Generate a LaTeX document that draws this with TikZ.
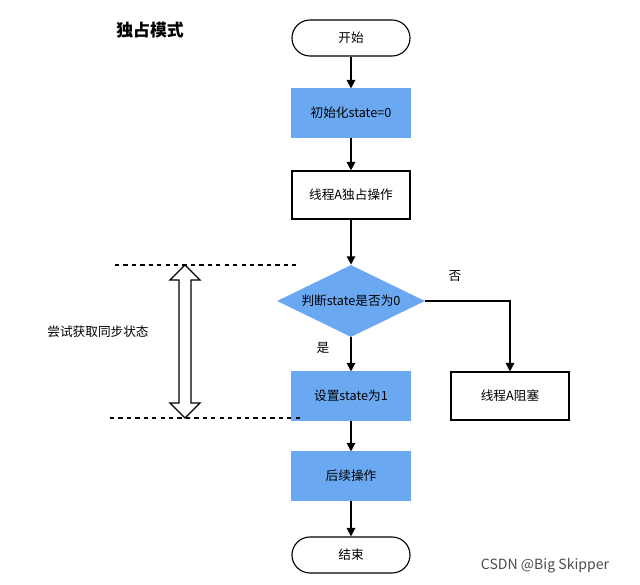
\documentclass[tikz,border=0pt]{standalone}
\usepackage{fontspec}
\setmainfont{Noto Sans CJK SC}
\usetikzlibrary{shapes.geometric,arrows.meta}
\definecolor{boxblue}{HTML}{6AA9F2}
\begin{document}
\begin{tikzpicture}[x=0.025cm,y=-0.025cm,
  box/.style={draw=black,line width=0.8pt,minimum width=2.95cm,minimum height=1.2cm,font=\small},
  bluebox/.style={box,draw=boxblue,fill=boxblue},
  term/.style={box,rounded corners=0.45cm,minimum height=0.9cm},
  arr/.style={-{Triangle[length=6pt,width=6pt]},line width=1pt}]
\useasboundingbox (0,0) rectangle (640,585);
\node[font=\large\bfseries] (title) at (150,30) {独占模式};
\node[term] (start) at (351,38) {开始};
\node[bluebox] (init) at (351,113) {初始化state=0};
\node[box] (own) at (351,195) {线程A独占操作};
\node[diamond,fill=boxblue,aspect=2.05,minimum width=3.7cm,minimum height=1.8cm,inner sep=0pt,font=\small] (judge) at (351,301) {判断state是否为0};
\node[bluebox] (set) at (351,396) {设置state为1};
\node[box] (block) at (510,396) {线程A阻塞};
\node[bluebox] (next) at (351,476) {后续操作};
\node[term] (end) at (351,555) {结束};
\node[font=\small] (no) at (455,276) {否};
\node[font=\small] (yes) at (323,348) {是};
\node[font=\small] (try) at (98,332) {尝试获取同步状态};
\node[text=gray!60!black] (mark) at (545,566) {CSDN @Big Skipper};
\coordinate (turn) at (510,301);
\coordinate (d1a) at (115,265); \coordinate (d1b) at (300,265);
\coordinate (d2a) at (110,418); \coordinate (d2b) at (300,418);
\draw[arr] (start) -- (init);
\draw[arr] (init) -- (own);
\draw[arr] (own) -- (judge.north);
\draw[arr] (judge.south) -- (set);
\draw[arr] (judge.east) -- (turn) -- (block);
\draw[arr] (set) -- (next);
\draw[arr] (next) -- (end);
\draw[dashed,line width=1pt] (d1a) -- (d1b);
\draw[dashed,line width=1pt] (d2a) -- (d2b);
\draw[line width=1pt,fill=white] (185,265) -- (200,280) -- (191,280) -- (191,403) -- (200,403)
  -- (185,418) -- (170,403) -- (179,403) -- (179,280) -- (170,280) -- cycle;
\end{tikzpicture}
\end{document}
